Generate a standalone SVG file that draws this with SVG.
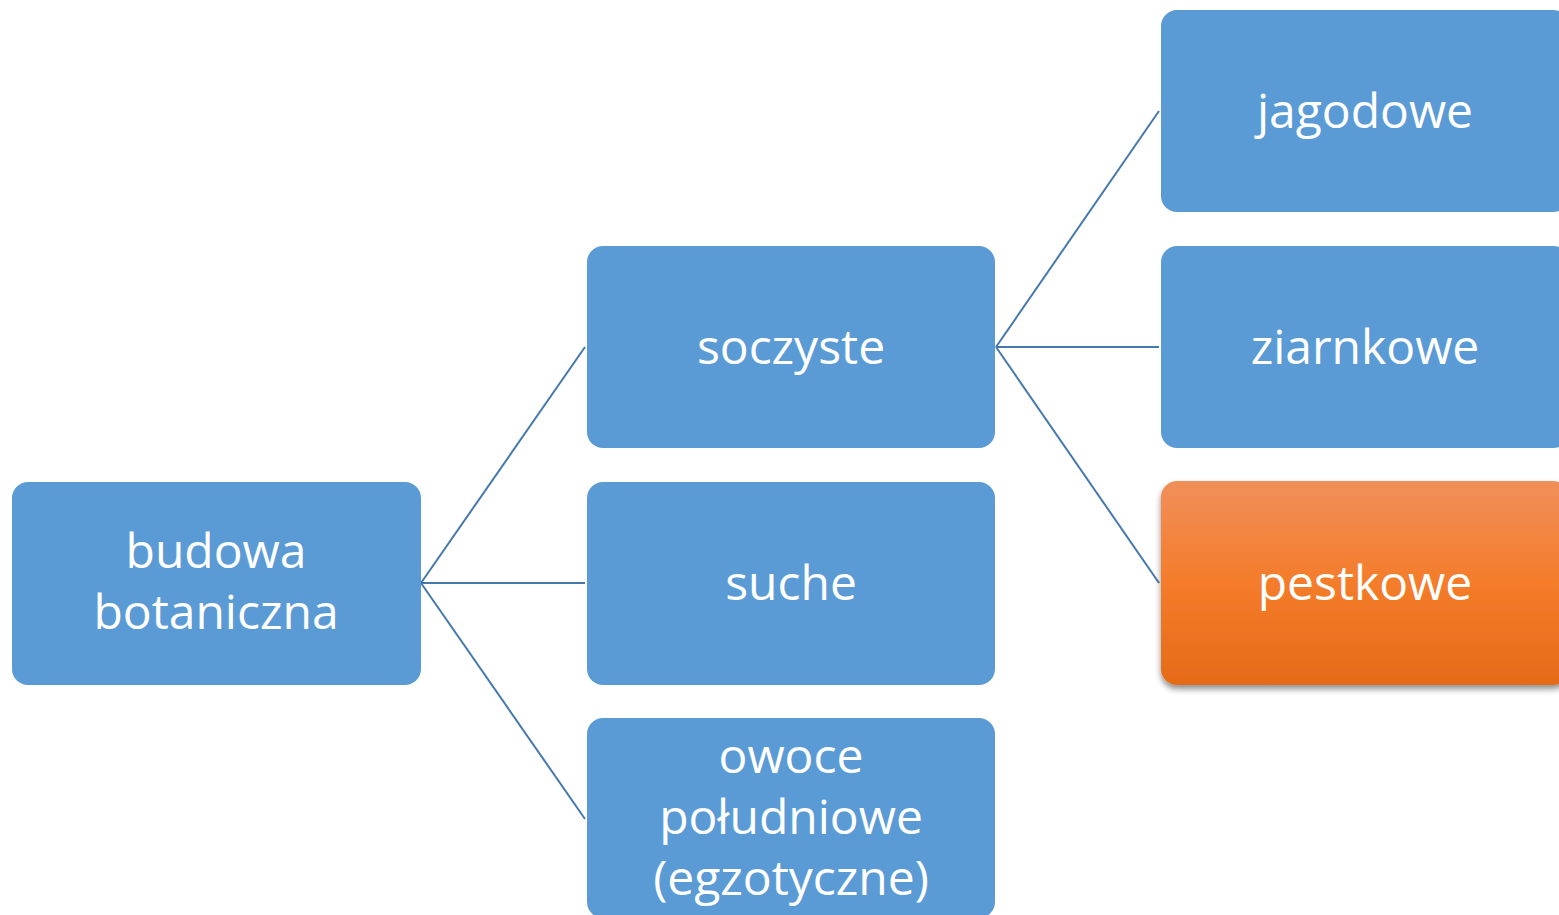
<svg xmlns="http://www.w3.org/2000/svg" width="1559" height="915" viewBox="0 0 1559 915">
<style>
.box{fill:#5b9bd5}
.lbl{font-family:"Open Sans","Liberation Sans",sans-serif;font-size:48px;fill:#ffffff;text-anchor:middle}
.con{stroke:#4579ad;stroke-width:2;fill:none}
</style>
<defs>
<linearGradient id="og" x1="0" y1="0" x2="0" y2="1">
<stop offset="0" stop-color="#f08f5a"/>
<stop offset="0.5" stop-color="#f47c2a"/>
<stop offset="1" stop-color="#e56b18"/>
</linearGradient>
<filter id="sh" x="-10%" y="-10%" width="120%" height="130%">
<feGaussianBlur in="SourceAlpha" stdDeviation="3"/>
<feOffset dx="0" dy="4" result="b"/>
<feComponentTransfer><feFuncA type="linear" slope="0.45"/></feComponentTransfer>
<feMerge><feMergeNode/><feMergeNode in="SourceGraphic"/></feMerge>
</filter>
</defs>
<rect width="1559" height="915" fill="#ffffff"/>
<g id="connectors">
<line class="con" x1="421" y1="583" x2="585" y2="347"/>
<line class="con" x1="421" y1="583" x2="585" y2="583"/>
<line class="con" x1="421" y1="583" x2="585" y2="819"/>
<line class="con" x1="996" y1="347" x2="1159" y2="111"/>
<line class="con" x1="996" y1="347" x2="1159" y2="347"/>
<line class="con" x1="996" y1="347" x2="1159" y2="583"/>
</g>
<g id="n-budowa">
<rect class="box" x="12" y="482" width="409" height="203" rx="16"/>
<text class="lbl" x="216" y="568">budowa</text>
<text class="lbl" x="216" y="629">botaniczna</text>
</g>
<g id="n-soczyste">
<rect class="box" x="587" y="246" width="408" height="202" rx="16"/>
<text class="lbl" x="791" y="364">soczyste</text>
</g>
<g id="n-suche">
<rect class="box" x="587" y="482" width="408" height="203" rx="16"/>
<text class="lbl" x="791" y="600">suche</text>
</g>
<g id="n-owoce">
<rect class="box" x="587" y="718" width="408" height="200" rx="16"/>
<text class="lbl" x="791" y="773">owoce</text>
<text class="lbl" x="791" y="834">południowe</text>
<text class="lbl" x="791" y="895">(egzotyczne)</text>
</g>
<g id="n-jagodowe">
<rect class="box" x="1161" y="10" width="408" height="202" rx="16"/>
<text class="lbl" x="1365" y="128">jagodowe</text>
</g>
<g id="n-ziarnkowe">
<rect class="box" x="1161" y="246" width="408" height="202" rx="16"/>
<text class="lbl" x="1365" y="364">ziarnkowe</text>
</g>
<g id="n-pestkowe">
<rect x="1161" y="481" width="408" height="204" rx="16" fill="url(#og)" filter="url(#sh)"/>
<text class="lbl" x="1365" y="600">pestkowe</text>
</g>
</svg>
